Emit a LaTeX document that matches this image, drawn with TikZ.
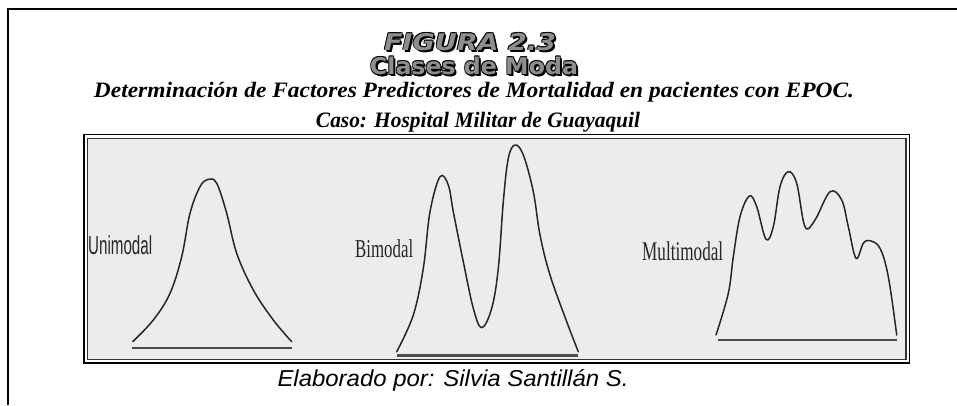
\documentclass[tikz,border=0pt]{standalone}
\usepackage{fontspec}
\usepackage{graphicx}
\setmainfont{Liberation Serif}
\setsansfont{Liberation Sans}
\newfontfamily\heavysans{DejaVu Sans}
\newcommand{\fitw}[2]{\resizebox{#1}{\height}{#2}}
\newcommand{\figtitle}{\fitw{172pt}{\heavysans\bfseries\itshape\fontsize{23}{28}\selectfont FIGURA 2.3}}
\newcommand{\clstitle}{\fitw{208pt}{\heavysans\bfseries\fontsize{23}{28}\selectfont Clases de Moda}}
\definecolor{boxgray}{HTML}{ECECEE}
\definecolor{titlegray}{HTML}{8E8E8E}
\tikzset{
  frameline/.style={line width=2.6pt, black},
  curve/.style={line width=1.5pt, black!85, line join=round, line cap=round},
  baseln/.style={line width=2.6pt, black!70},
  lbl/.style={inner sep=0pt, anchor=base west, text=black!85},
  ttl/.style={inner sep=0pt, anchor=base},
}
\begin{document}
\begin{tikzpicture}[x=1pt,y=-1pt]
\useasboundingbox (0,0) rectangle (957,405);
\fill[white] (0,0) rectangle (957,405);
% outer frame (top and left only)
\draw[frameline] (8,405) -- (8,9) -- (957,9);
% titles with outline and shadow
\foreach \dx/\dy [count=\k] in {-0.7/-0.7, 0.7/-0.7, -0.7/0.7, 0.7/0.7, 1.6/1.6, 2.0/2.0} {
  \node[ttl, text=black] (t1s\k) at (470+\dx,50+\dy) {\figtitle};
  \node[ttl, text=black] (t2s\k) at (474+\dx,74.5+\dy) {\clstitle};
}
\node[ttl, text=titlegray] (t1) at (470,50) {\figtitle};
\node[ttl, text=titlegray] (t2) at (474,74.5) {\clstitle};
\node[ttl] (t3) at (474,97) {\fitw{760pt}{\rmfamily\bfseries\itshape\fontsize{22}{26}\selectfont Determinación de Factores Predictores de Mortalidad en pacientes con EPOC.}};
\node[ttl] (t4) at (478,127) {\fitw{324pt}{\rmfamily\bfseries\itshape\fontsize{22}{26}\selectfont Caso: Hospital Militar de Guayaquil}};
% inner box
\draw[black, line width=1.4pt] (84,134.5) rectangle (909.5,363);
\draw[black!80, line width=1.4pt, fill=boxgray] (87.5,138.5) rectangle (906,359.5);
% unimodal
\draw[curve] plot[smooth, tension=0.6] coordinates {(132.7,341.7) (153.3,320) (170,293.3) (181.7,256.7) (190,213.3) (200,186.7) (208.3,179.3) (216.7,183.3) (226.7,213.3) (236.7,253.3) (253.3,290) (273.3,320) (291.7,341.7)};
\draw[baseln] (132,348) -- (292,348);
\node[lbl] (u) at (88,254) {\fitw{64pt}{\sffamily\fontsize{26}{30}\selectfont Unimodal}};
% bimodal
\draw[curve] plot[smooth, tension=0.6] coordinates {(396.7,351.7) (413.3,315) (423.3,268.3) (430,211.7) (440,176.7) (448.3,185) (453.3,211.7) (463.3,261.7) (473.3,308.3) (481.7,327.7) (491.7,308.3) (498.3,268.3) (503.3,201.7) (508.3,158.3) (515,145) (523.3,155) (533.3,191.7) (540,235) (550,275) (566.7,321.7) (578.3,351.7)};
\draw[baseln] (397,355.5) -- (578,355.5);
\node[lbl] (b) at (355,257) {\fitw{58pt}{\rmfamily\fontsize{25.7}{30}\selectfont Bimodal}};
% multimodal
\draw[curve] plot[smooth, tension=0.6] coordinates {(716,335) (728.3,293.3) (733.3,256.7) (740,216.7) (749.3,196) (756.7,206.7) (766,239.3) (773.3,226.7) (780,186.7) (788.3,171.7) (796.7,183.3) (805,226.7) (815,220) (830,191.7) (841.7,200) (848.3,226.7) (856,258.3) (863.3,243.3) (870,240.7) (880,248.3) (888.3,276.7) (896.7,335)};
\draw[baseln] (718,340) -- (897,340);
\node[lbl] (m) at (642,260) {\fitw{81pt}{\rmfamily\fontsize{27}{30}\selectfont Multimodal}};
% footer
\node[ttl] (f) at (453,386) {\fitw{351pt}{\sffamily\itshape\fontsize{23}{26}\selectfont Elaborado por: Silvia Santillán S.}};
\end{tikzpicture}
\end{document}
